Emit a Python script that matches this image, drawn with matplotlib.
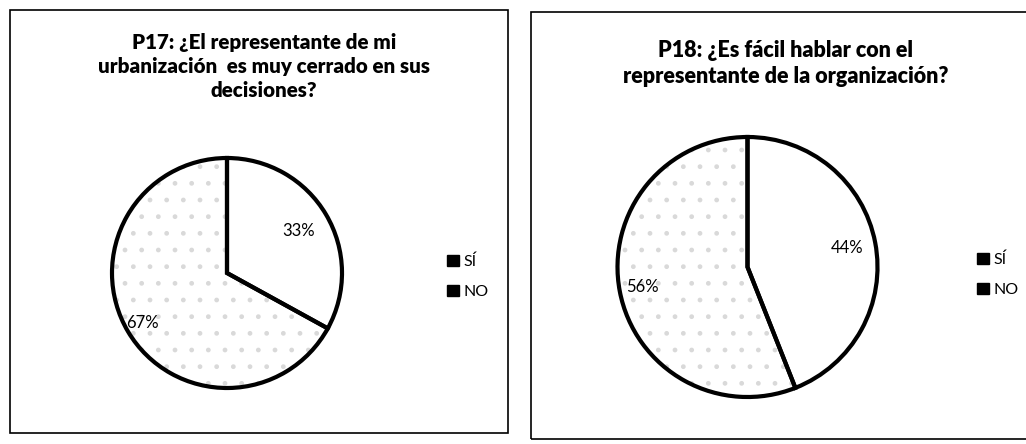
import numpy as np
import matplotlib
matplotlib.use("Agg")
import matplotlib.pyplot as plt
from matplotlib.patches import Rectangle, Patch

plt.rcParams['font.family'] = ['Lato', 'DejaVu Sans']

# data
labels = ["SÍ", "NO"]
p17_values = [33, 67]
p18_values = [44, 56]
p17_title = "P17: ¿El representante de mi\nurbanización  es muy cerrado en sus\ndecisiones?"
p18_title = "P18: ¿Es fácil hablar con el\nrepresentante de la organización?"

W, H = 1026, 444
fig = plt.figure(figsize=(W / 100, H / 100), dpi=100)


def fx(px):
    return px / W


def fy(py):
    return 1 - py / H


# box borders
fig.patches.append(Rectangle((fx(10), fy(433)), fx(498), 423 / H, transform=fig.transFigure,
                             fill=False, edgecolor='black', lw=1.2))
fig.patches.append(Rectangle((fx(531), fy(439)), fx(520), 427 / H, transform=fig.transFigure,
                             fill=False, edgecolor='black', lw=1.2, clip_on=False))


def draw_pie(values, cx, cy, r, dists, title, tsize, tx, ty, lx, ly):
    size = 2.2 * r
    ax = fig.add_axes([fx(cx - size / 2), fy(cy + size / 2), fx(size), size / H])
    # stipple fill for the NO slice
    ax.pie(values, startangle=90, counterclock=False,
           colors=['white', 'white'], hatch=['', '.'],
           wedgeprops=dict(edgecolor='#d9d9d9', lw=0))
    wedges, _ = ax.pie(values, startangle=90, counterclock=False,
                       colors=['none', 'none'],
                       wedgeprops=dict(edgecolor='black', lw=3))
    for w, v, d in zip(wedges, values, dists):
        ang = np.deg2rad((w.theta1 + w.theta2) / 2)
        ax.text(d * np.cos(ang), d * np.sin(ang), f"{v}%", ha='center', va='center',
                fontsize=12)
    ax.set_xlim(-1.1, 1.1)
    ax.set_ylim(-1.1, 1.1)
    ax.set_aspect('equal')
    ax.axis('off')
    fig.text(fx(tx), fy(ty), title, ha='center', va='top', fontsize=tsize,
             fontweight='heavy', linespacing=1.3)
    handles = [Patch(facecolor='black', edgecolor='black') for _ in labels]
    fig.legend(handles, labels, loc='center left', bbox_to_anchor=(fx(lx), fy(ly)),
               frameon=False, fontsize=11.5, handlelength=0.7, handleheight=0.7,
               handletextpad=0.3, labelspacing=1.0)


draw_pie(p17_values, 227, 273, 115, [0.72, 0.85], p17_title, 14.8, 264, 33, 433, 277)
draw_pie(p18_values, 747.5, 267, 130, [0.78, 0.82], p18_title, 15.5, 786, 40, 963, 275)

fig.savefig("out.png", dpi=100)
